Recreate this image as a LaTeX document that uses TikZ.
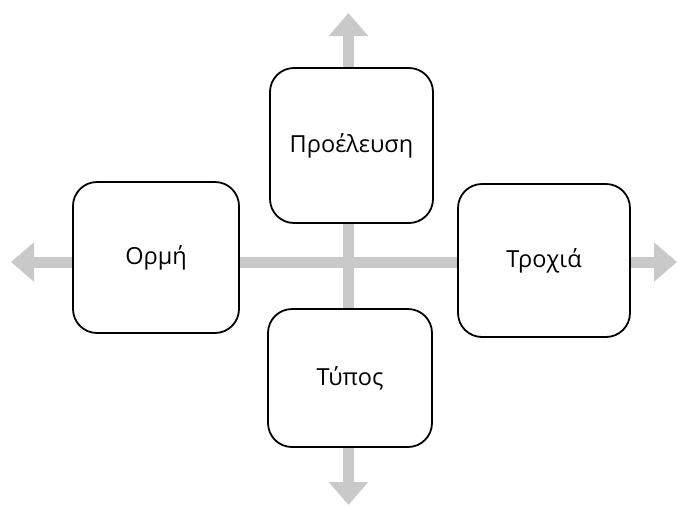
\documentclass[tikz,border=0pt]{standalone}
\usepackage{fontspec}
\setmainfont{Open Sans}
\usetikzlibrary{arrows.meta}
\definecolor{axisgray}{HTML}{C9C9C9}
\begin{document}
\begin{tikzpicture}[x=1pt,y=-1pt,
    axis/.style={line width=11pt,axisgray,{Triangle[width=38pt,length=23pt]}-{Triangle[width=38pt,length=23pt]}},
    box/.style={draw,line width=1.8pt,rounded corners=24pt,fill=white,font=\fontsize{23.5}{28}\selectfont}]
    \useasboundingbox (0,0) rectangle (678,507);
    \coordinate (west) at (11,262);
    \coordinate (east) at (677,262);
    \coordinate (north) at (348.5,13);
    \coordinate (south) at (348.5,505);
    \draw [axis] (west) -- (east);
    \draw [axis] (north) -- (south);
    \node [box,minimum width=163pt,minimum height=155pt] (source) at (351.5,145.5) {Προέλευση};
    \node [box,minimum width=166pt,minimum height=151pt] (momentum) at (156,257.5) {Ορμή};
    \node [box,minimum width=172pt,minimum height=153pt] (trajectory) at (544,260.5) {Τροχιά};
    \node [box,minimum width=164pt,minimum height=138pt] (type) at (350,378) {Τύπος};
\end{tikzpicture}
\end{document}
